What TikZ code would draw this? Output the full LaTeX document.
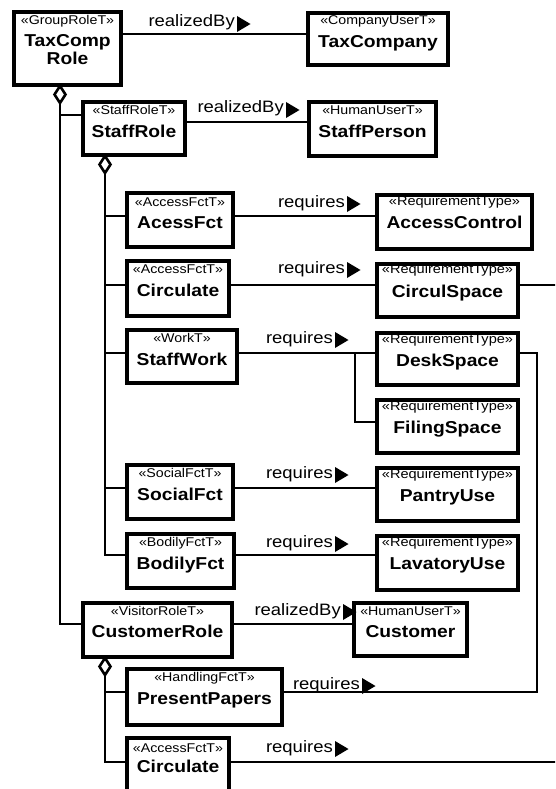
\documentclass[tikz,border=0pt]{standalone}
\usepackage{fontspec}
\setmainfont{Liberation Sans}[FakeStretch=1.12]

\tikzset{
  umlbox/.style={draw, line width=3.2pt, anchor=north west, inner sep=0pt, outer sep=0pt},
  stereo/.style={anchor=base, inner sep=0pt, font=\fontsize{12.7}{14}\selectfont},
  title/.style={anchor=base, inner sep=0pt, font=\fontsize{17.2}{20}\selectfont\bfseries},
  assoc/.style={line width=2.9pt},
  diamondmark/.style={line width=2.6pt, fill=white, line join=miter},
  lbl/.style={anchor=base east, inner sep=0pt, font=\fontsize{16.5}{19}\selectfont},
}

% class box: name, top-left corner, width, height, stereotype, title, stereotype baseline, title baseline
\newcommand\umlclass[8]{%
  \node[umlbox, minimum width=#3pt, minimum height=#4pt] (#1) at #2 {};
  \node[stereo] (#1-st) at ([yshift=-#7]#1.north) {#5};
  \node[title] (#1-nm) at ([yshift=-#8]#1.north) {#6};
}
\newcommand\reqtype{{\fontsize{13}{15}\selectfont «RequirementType»}}
% role label with its direction triangle: name, base-east point, text
\newcommand\rolelabel[3]{%
  \node[lbl] (#1) at #2 {#3};
  \fill ([xshift=2pt]#1.base east) ++(0,5) -- ++(0,-16) -- ++(13.5,8) -- cycle;
}
% hollow aggregation diamond hanging below a whole: top point
\newcommand\aggdiamond[1]{%
  \draw[diamondmark] #1 ++(0,1) -- ++(5.5,8.5) -- ++(-5.5,8.5) -- ++(-5.5,-8.5) -- cycle;
}

\begin{document}
\begin{tikzpicture}[x=1pt,y=-1pt]
\fill[white] (0,0) rectangle (555,789);
\useasboundingbox (0,0) rectangle (555,789);
\clip (0,0) rectangle (555,789);

% trunks and connector rows
\coordinate (xA) at (60,0);
\coordinate (xB) at (105,0);
\coordinate (xF) at (355,0);
\coordinate (xD) at (537,0);
\coordinate (xEdge) at (560,0);
\coordinate (yTax) at (0,34);
\coordinate (yStaffL) at (0,115);
\coordinate (yStaffR) at (0,122);
\coordinate (yAcc) at (0,216);
\coordinate (yCirc) at (0,285);
\coordinate (yWork) at (0,353);
\coordinate (yFiling) at (0,422);
\coordinate (ySoc) at (0,488);
\coordinate (yBod) at (0,555);
\coordinate (yCust) at (0,624);
\coordinate (yPres) at (0,692);
\coordinate (yCircB) at (0,762);

% roles and users
\umlclass{TaxCompRole}{(14,12)}{107}{73}{«GroupRoleT»}{TaxComp}{13pt}{35pt}
\node[title] (TaxCompRole-nm2) at ([yshift=-53pt]TaxCompRole.north) {Role};
\umlclass{TaxCompany}{(308,13)}{140}{52}{«CompanyUserT»}{TaxCompany}{12pt}{35pt}
\umlclass{StaffRole}{(83,102)}{102}{53}{«StaffRoleT»}{StaffRole}{12pt}{36pt}
\umlclass{StaffPerson}{(309,102)}{127}{54}{«HumanUserT»}{StaffPerson}{13pt}{35pt}

% staff functions
\umlclass{AcessFct}{(127,193)}{106}{54}{«AccessFctT»}{AcessFct}{13pt}{35pt}
\umlclass{Circulate}{(127,261)}{102}{55}{«AccessFctT»}{Circulate}{12pt}{35pt}
\umlclass{StaffWork}{(127,330)}{110}{53}{«WorkT»}{StaffWork}{12pt}{35pt}
\umlclass{SocialFct}{(127,465)}{106}{54}{«SocialFctT»}{SocialFct}{12pt}{35pt}
\umlclass{BodilyFct}{(127,534)}{107}{54}{«BodilyFctT»}{BodilyFct}{12pt}{35pt}

% requirements
\umlclass{AccessControl}{(377,195)}{155}{54}{\reqtype}{AccessControl}{10pt}{33pt}
\umlclass{CirculSpace}{(377,264)}{141}{53}{\reqtype}{CirculSpace}{9pt}{33pt}
\umlclass{DeskSpace}{(377,333)}{141}{52}{\reqtype}{DeskSpace}{10pt}{33pt}
\umlclass{FilingSpace}{(377,400)}{141}{53}{\reqtype}{FilingSpace}{10pt}{33pt}
\umlclass{PantryUse}{(377,468)}{141}{53}{\reqtype}{PantryUse}{10pt}{33pt}
\umlclass{LavatoryUse}{(377,536)}{141}{54}{\reqtype}{LavatoryUse}{10pt}{33pt}

% visitor side
\umlclass{CustomerRole}{(83,603)}{149}{54}{«VisitorRoleT»}{CustomerRole}{12pt}{34pt}
\umlclass{Customer}{(354,603)}{113}{53}{«HumanUserT»}{Customer}{12pt}{34pt}
\umlclass{PresentPapers}{(127,669)}{155}{56}{«HandlingFctT»}{PresentPapers}{12pt}{35pt}
\umlclass{CirculateB}{(127,738)}{102}{62}{«AccessFctT»}{Circulate}{14pt}{34pt}

% realization links
\draw[assoc] (TaxCompRole.east |- yTax) -- (TaxCompany.west |- yTax);
\rolelabel{lblTax}{(235,27)}{realizedBy}
\draw[assoc] (StaffRole.east |- yStaffR) -- (StaffPerson.west |- yStaffR);
\rolelabel{lblStaff}{(284,113)}{realizedBy}
\draw[assoc] (CustomerRole.east |- yCust) -- (Customer.west |- yCust);
\rolelabel{lblCust}{(341,615)}{realizedBy}

% aggregation trees
\draw[assoc] (TaxCompRole.south -| xA) |- (CustomerRole.west |- yCust);
\draw[assoc] (xA |- yStaffL) -- (StaffRole.west |- yStaffL);
\aggdiamond{(TaxCompRole.south -| xA)}

\draw[assoc] (StaffRole.south -| xB) |- (BodilyFct.west |- yBod);
\draw[assoc] (xB |- yAcc) -- (AcessFct.west |- yAcc);
\draw[assoc] (xB |- yCirc) -- (Circulate.west |- yCirc);
\draw[assoc] (xB |- yWork) -- (StaffWork.west |- yWork);
\draw[assoc] (xB |- ySoc) -- (SocialFct.west |- ySoc);
\aggdiamond{(StaffRole.south -| xB)}

\draw[assoc] (CustomerRole.south -| xB) |- (CirculateB.west |- yCircB);
\draw[assoc] (xB |- yPres) -- (PresentPapers.west |- yPres);
\aggdiamond{(CustomerRole.south -| xB)}

% requirement links
\draw[assoc] (AcessFct.east |- yAcc) -- (AccessControl.west |- yAcc);
\rolelabel{lblAcc}{(345,207)}{requires}
\draw[assoc] (Circulate.east |- yCirc) -- (CirculSpace.west |- yCirc);
\rolelabel{lblCirc}{(345,273)}{requires}
\draw[assoc] (StaffWork.east |- yWork) -- (DeskSpace.west |- yWork);
\draw[assoc] (xF |- yWork) |- (FilingSpace.west |- yFiling);
\rolelabel{lblWork}{(333,343)}{requires}
\draw[assoc] (SocialFct.east |- ySoc) -- (PantryUse.west |- ySoc);
\rolelabel{lblSoc}{(333,478)}{requires}
\draw[assoc] (BodilyFct.east |- yBod) -- (LavatoryUse.west |- yBod);
\rolelabel{lblBod}{(333,547)}{requires}
\draw[assoc] (DeskSpace.east |- yWork) -| (xD |- yPres) -- (PresentPapers.east |- yPres);
\rolelabel{lblPres}{(360,689)}{requires}
\draw[assoc] (CirculSpace.east |- yCirc) -- (xEdge |- yCirc);
\draw[assoc] (CirculateB.east |- yCircB) -- (xEdge |- yCircB);
\rolelabel{lblCircB}{(333,752)}{requires}
\end{tikzpicture}
\end{document}
